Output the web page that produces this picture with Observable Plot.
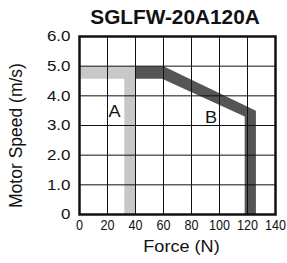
<!DOCTYPE html>
<html><head><meta charset="utf-8">
<script src="https://cdn.jsdelivr.net/npm/d3@7"></script>
<script src="https://cdn.jsdelivr.net/npm/@observablehq/plot@0.6"></script>
<style>
body{margin:0;background:#fff;font-family:"Liberation Sans",Arial,sans-serif;}
#wrap{position:relative;width:287px;height:263px;overflow:hidden;background:#fff;}
#title{position:absolute;z-index:2;left:175px;top:6px;transform:translateX(-50%) scaleX(1.04);font-weight:bold;font-size:20px;line-height:22px;white-space:nowrap;color:#111;}
#chart{position:absolute;z-index:1;left:0;top:18px;}
</style></head><body>
<div id="wrap"><div id="title"></div><div id="chart"></div></div>
<script>
const title = "SGLFW-20A120A";
const xLabel = "Force (N)";
const yLabel = "Motor Speed (m/s)";
const xTicks = [0, 20, 40, 60, 80, 100, 120, 140];
const yTicks = [0, 1, 2, 3, 4, 5, 6];
const regionAForce = [0, 40, 40, 32, 32, 0];
const regionASpeed = [5, 5, 0, 0, 4.58, 4.58];
const regionBForce = [40, 60, 126, 126, 118, 118, 59, 40];
const regionBSpeed = [5, 5, 3.5, 0, 0, 3.3, 4.58, 4.58];
const labelNames = ["A", "B"];
const labelForce = [25, 94];
const labelSpeed = [3.45, 3.25];

document.getElementById("title").textContent = title;
const polyA = regionAForce.map((f, i) => ({f, s: regionASpeed[i]}));
const polyB = regionBForce.map((f, i) => ({f, s: regionBSpeed[i]}));
const labs = labelNames.map((n, i) => ({n, f: labelForce[i], s: labelSpeed[i]}));

const chart = Plot.plot({
  width: 287, height: 245,
  marginLeft: 79, marginRight: 12, marginTop: 18, marginBottom: 49,
  style: {fontFamily: "'Liberation Sans', Arial, sans-serif", color: "#111", background: "transparent", overflow: "visible"},
  x: {domain: [0, 140]},
  y: {domain: [0, 6]},
  marks: [
    Plot.line(polyA, {x: "f", y: "s", fill: "#c8c8c8", stroke: "none", curve: "linear-closed"}),
    Plot.line(polyB, {x: "f", y: "s", fill: "#555555", stroke: "none", curve: "linear-closed"}),
    Plot.gridX(xTicks, {stroke: "#111", strokeOpacity: 1, strokeWidth: 1}),
    Plot.gridY(yTicks, {stroke: "#111", strokeOpacity: 1, strokeWidth: 1}),
    Plot.text(labs, {x: "f", y: "s", text: "n", fontSize: 16, fill: "#111"}),
    Plot.frame({stroke: "#111", strokeWidth: 2.5}),
    Plot.axisX(xTicks, {tickSize: 0, tickPadding: 5, fontSize: 15, label: null}),
    Plot.axisY(yTicks, {tickSize: 0, tickPadding: 9, fontSize: 15, tickFormat: d => d === 0 ? "0" : d.toFixed(1), label: null}),
    Plot.text([xLabel], {frameAnchor: "bottom", text: d => d, dx: 4, dy: 37, fontSize: 16, fill: "#111"}),
    Plot.text([yLabel], {frameAnchor: "left", textAnchor: "middle", text: d => d, rotate: -90, dx: -63, dy: 10, fontSize: 17.5, fill: "#111"})
  ]
});
document.getElementById("chart").appendChild(chart);
const xTickTexts = new Set(chart.querySelectorAll('g[aria-label="x-axis tick label"] text'));
chart.querySelectorAll('g[aria-label="x-axis tick label"] text, g[aria-label="y-axis tick label"] text, g[aria-label="text"] text').forEach(t => {
  if (t.textContent === yLabel) return;
  const len = t.getComputedTextLength();
  if (len > 0) {
    const k = xTickTexts.has(t) ? 0.84 : 1.13;
    t.setAttribute("textLength", len * k);
    t.setAttribute("lengthAdjust", "spacingAndGlyphs");
  }
});
</script>
</body></html>
